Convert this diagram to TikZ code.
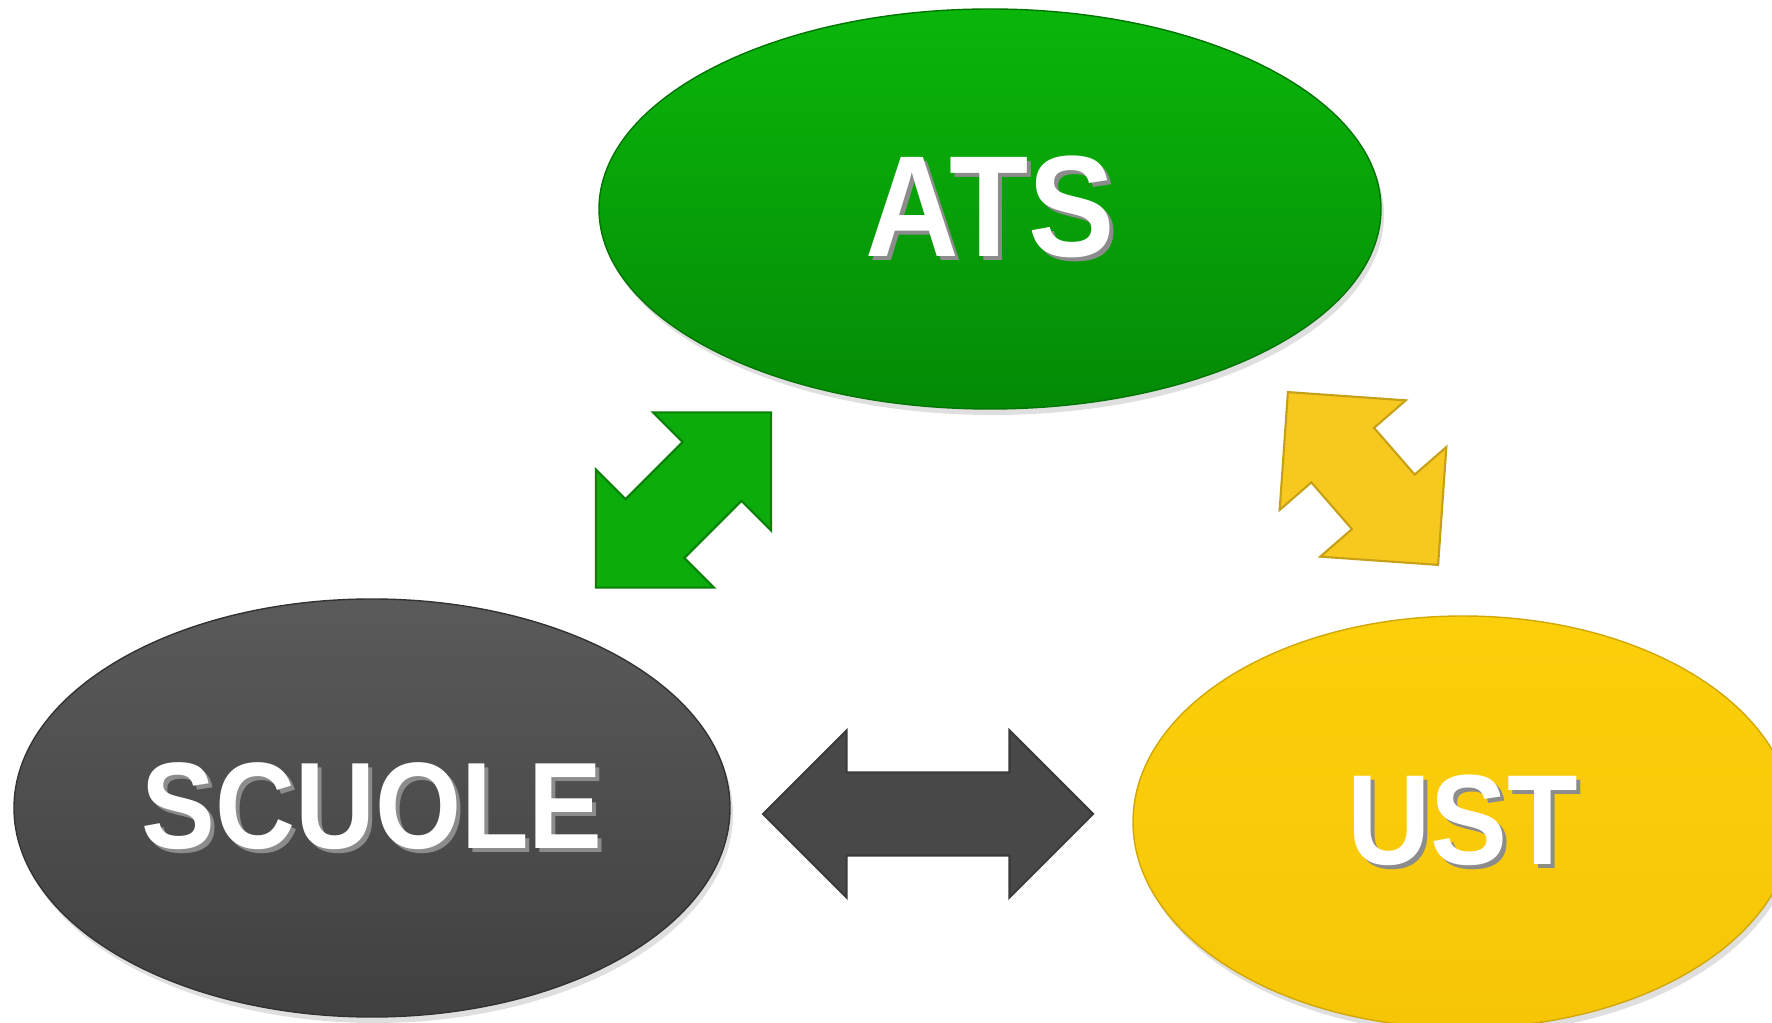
\documentclass[tikz,border=0pt]{standalone}
\usepackage{fontspec}
\usepackage{xcolor}
\usepackage{tikz}
\usetikzlibrary{shapes.geometric, shapes.arrows, shadows}
\newfontfamily\labelfont[FakeStretch=0.9]{Liberation Sans Bold}

\definecolor{atsgreen}{RGB}{10,182,10}
\definecolor{atsgreendark}{RGB}{4,138,6}
\definecolor{scuolegray}{RGB}{90,90,90}
\definecolor{scuolegraydark}{RGB}{64,64,64}
\definecolor{ustyellow}{RGB}{251,207,10}
\definecolor{ustyellowdark}{RGB}{246,198,6}
\definecolor{linkgreen}{RGB}{12,172,12}
\definecolor{linkyellow}{RGB}{247,201,30}
\definecolor{linkgray}{RGB}{72,72,72}

\newcommand{\shadowlabel}[1]{\makebox[0pt][l]{\kern0.04cm\raisebox{-0.04cm}{\color{black!45}#1}}#1}

\tikzstyle{ente} = [ellipse, inner sep=0pt, text=white, font=\labelfont, drop shadow={opacity=0.25, shadow xshift=0.03cm, shadow yshift=-0.06cm}]
\tikzstyle{link} = [double arrow, double arrow tip angle=90, double arrow head extend=0.42cm, minimum width=1.65cm, inner xsep=0pt, inner ysep=0.405cm, line width=0.6pt]

\begin{document}
\begin{tikzpicture}
                \useasboundingbox (0,0) rectangle (17.72,-10.23);

% ---------------------------------------------
% Enti
% ---------------------------------------------
                \node (ats) [ente, minimum width=7.82cm, minimum height=4.0cm, top color=atsgreen, bottom color=atsgreendark, draw=atsgreendark!85!black] at (9.90,-2.09) {\fontsize{41}{41}\selectfont\shadowlabel{ATS}};

                \node (scuole) [ente, minimum width=7.16cm, minimum height=4.18cm, top color=scuolegray, bottom color=scuolegraydark, draw=scuolegraydark!80!black] at (3.72,-8.08) {\fontsize{35}{35}\selectfont\shadowlabel{SCUOLE}};

                \node (ust) [ente, minimum width=6.6cm, minimum height=4.12cm, top color=ustyellow, bottom color=ustyellowdark, draw=ustyellowdark!85!black] at (14.63,-8.22) {\fontsize{36.5}{36.5}\selectfont\shadowlabel{UST}};

% ---------------------------------------------
% Frecce
% ---------------------------------------------
                \node (link_1) [link, rotate=45, minimum height=2.48cm, fill=linkgreen, draw=linkgreen!75!black] at (6.835,-5.00) {};
                \node (link_2) [link, rotate=-49, minimum height=2.29cm, fill=linkyellow, draw=linkyellow!80!black] at (13.63,-4.785) {};
                \node (link_3) [link, minimum height=3.30cm, fill=linkgray, draw=linkgray!80!black] at (9.28,-8.14) {};

\end{tikzpicture}
\end{document}
